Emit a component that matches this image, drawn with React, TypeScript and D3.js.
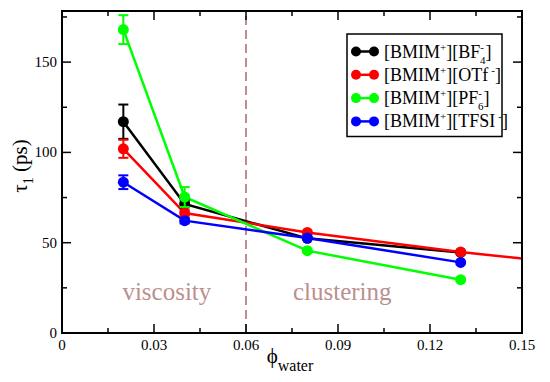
import React from "react";
import * as d3 from "d3";

// water fraction on x
const phiWater = [0.02, 0.04, 0.08, 0.13];

// tau_1 (ps) per ionic liquid
const bf4 = [117, 71.5, 52.4, 44.6];
const otf = [102, 66.4, 55.7, 44.8, 39.4];
const pf6 = [168, 75.3, 45.6, 29.5];
const tfsi = [83.5, 62.2, 52.6, 39.1];

// error bars (only the dilute points have visible ones)
const bf4Err = [9.5, 2, 0, 0];
const otfErr = [5, 1.5, 0, 0];
const pf6Err = [8, 5.5, 0, 0];
const tfsiErr = [3.8, 1.5, 0, 0];

// red line runs on past the frame
const phiWaterOtf = [0.02, 0.04, 0.08, 0.13, 0.16];

const xTicks = [0, 0.03, 0.06, 0.09, 0.12, 0.15];
const yTicks = [0, 50, 100, 150];
const xMinor = [0.015, 0.045, 0.075, 0.105, 0.135];
const yMinor = [25, 75, 125, 175];

const series = [
  { name: "BF", sub: "4", color: "#000000", x: phiWater, y: bf4, err: bf4Err },
  { name: "OTf", sub: "", color: "#ff0000", x: phiWaterOtf, y: otf, err: otfErr },
  { name: "PF", sub: "6", color: "#00ff00", x: phiWater, y: pf6, err: pf6Err },
  { name: "TFSI", sub: "", color: "#0000ff", x: phiWater, y: tfsi, err: tfsiErr },
];

const width = 550;
const height = 382;
const m = { left: 62, right: 28, top: 11, bottom: 49 };
const font = '"Times New Roman", "Liberation Serif", Tinos, FreeSerif';
const fs = { fontFamily: font };
const rb = "#bc8f8f";

const App = () => {
  const x = d3.scaleLinear([0, 0.15], [m.left, width - m.right]);
  const y = d3.scaleLinear([0, 178.3], [height - m.bottom, m.top]);
  const [x0, x1] = x.range();
  const [y0, y1] = y.range();
  const line = d3.line<[number, number]>();

  return (
    <svg width={width} height={height} style={{ position: "absolute", left: 0, top: 0, background: "#fff" }}>
      <defs>
        <clipPath id="plotclip">
          <rect x={x0} y={y1} width={x1 - x0} height={y0 - y1} />
        </clipPath>
      </defs>

      {/* dashed divider */}
      <line x1={x(0.06)} x2={x(0.06)} y1={y0} y2={y1} stroke={rb} strokeWidth={2} strokeDasharray="9 5" />
      <text x={x(0.0342)} y={y(18)} textAnchor="middle" fontSize={25} fill={rb} fontFamily={font} style={fs}>
        viscosity
      </text>
      <text x={x(0.0914)} y={y(18)} textAnchor="middle" fontSize={25} fill={rb} fontFamily={font} style={fs}>
        clustering
      </text>

      <g clipPath="url(#plotclip)">
        {series.map((s) => (
          <path
            key={s.name}
            d={line(s.x.map((v, i) => [x(v), y(s.y[i])]))!}
            fill="none"
            stroke={s.color}
            strokeWidth={2.5}
          />
        ))}
        {series.map((s) => (
          <g key={s.name} stroke={s.color} strokeWidth={2} fill={s.color}>
            {s.x.map((v, i) => {
              const e = s.err[i] || 0;
              const cx = x(v);
              return (
                <g key={i}>
                  {e > 0 && (
                    <>
                      <line x1={cx} x2={cx} y1={y(s.y[i] - e)} y2={y(s.y[i] + e)} />
                      <line x1={cx - 5} x2={cx + 5} y1={y(s.y[i] - e)} y2={y(s.y[i] - e)} />
                      <line x1={cx - 5} x2={cx + 5} y1={y(s.y[i] + e)} y2={y(s.y[i] + e)} />
                    </>
                  )}
                  <circle cx={cx} cy={y(s.y[i])} r={5.5} stroke="none" />
                </g>
              );
            })}
          </g>
        ))}
      </g>

      {/* frame */}
      <rect x={x0} y={y1} width={x1 - x0} height={y0 - y1} fill="none" stroke="#000" strokeWidth={2} />

      {/* ticks, inward on all sides */}
      <g stroke="#000" strokeWidth={1.5}>
        {xTicks.map((t) => (
          <g key={"x" + t}>
            <line x1={x(t)} x2={x(t)} y1={y0} y2={y0 - 9} />
            <line x1={x(t)} x2={x(t)} y1={y1} y2={y1 + 9} />
          </g>
        ))}
        {xMinor.map((t) => (
          <g key={"xm" + t}>
            <line x1={x(t)} x2={x(t)} y1={y0} y2={y0 - 5} />
            <line x1={x(t)} x2={x(t)} y1={y1} y2={y1 + 5} />
          </g>
        ))}
        {yTicks.map((t) => (
          <g key={"y" + t}>
            <line x1={x0} x2={x0 + 9} y1={y(t)} y2={y(t)} />
            <line x1={x1} x2={x1 - 9} y1={y(t)} y2={y(t)} />
          </g>
        ))}
        {yMinor.map((t) => (
          <g key={"ym" + t}>
            <line x1={x0} x2={x0 + 5} y1={y(t)} y2={y(t)} />
            <line x1={x1} x2={x1 - 5} y1={y(t)} y2={y(t)} />
          </g>
        ))}
      </g>

      {/* tick labels */}
      {xTicks.map((t) => (
        <text key={"xl" + t} x={x(t)} y={y0 + 17} textAnchor="middle" fontSize={15} fontFamily={font} style={fs}>
          {t === 0 ? "0" : d3.format(".2f")(t)}
        </text>
      ))}
      {yTicks.map((t) => (
        <text key={"yl" + t} x={x0 - 5} y={y(t) + 5} textAnchor="end" fontSize={15} fontFamily={font} style={fs}>
          {t}
        </text>
      ))}

      {/* axis titles */}
      <text x={290} y={363} textAnchor="middle" fontSize={21} fontFamily={font} style={fs}>
        <tspan>{"\u03d5"}</tspan>
        <tspan fontSize={16} dy={8}>water</tspan>
      </text>
      <text
        transform={`translate(27,${(y0 + y1) / 2 - 6}) rotate(-90)`}
        textAnchor="middle"
        fontSize={21}
        fontFamily={font}
        style={fs}
      >
        <tspan>{"\u03c4"}</tspan>
        <tspan fontSize={14} dy={6}>1</tspan>
        <tspan dy={-6}>{" (ps)"}</tspan>
      </text>

      {/* legend */}
      <rect x={347} y={34} width={155} height={102.5} fill="#fff" stroke="#000" strokeWidth={1.5} />
      {series.map((s, i) => {
        const ly = 51.5 + i * 23.3;
        return (
          <g key={"lg" + s.name}>
            <line x1={356} x2={374} y1={ly} y2={ly} stroke={s.color} strokeWidth={2.5} />
            <circle cx={356} cy={ly} r={5} fill={s.color} />
            <circle cx={374} cy={ly} r={5} fill={s.color} />
            <text x={384} y={ly + 6} fontSize={18} fontFamily={font} style={fs}>
              <tspan>[BMIM</tspan>
              <tspan fontSize={11} dy={-7}>+</tspan>
              <tspan dy={7}>{"][" + s.name}</tspan>
              {s.sub ? (
                <>
                  <tspan fontSize={11} dy={-7}>-</tspan>
                  <tspan fontSize={11} dx={-4} dy={13}>{s.sub}</tspan>
                  <tspan dy={-6}>]</tspan>
                </>
              ) : (
                <>
                  <tspan fontSize={11} dx={3} dy={-7}>-</tspan>
                  <tspan dy={7}>]</tspan>
                </>
              )}
            </text>
          </g>
        );
      })}
    </svg>
  );
};

export default App;
